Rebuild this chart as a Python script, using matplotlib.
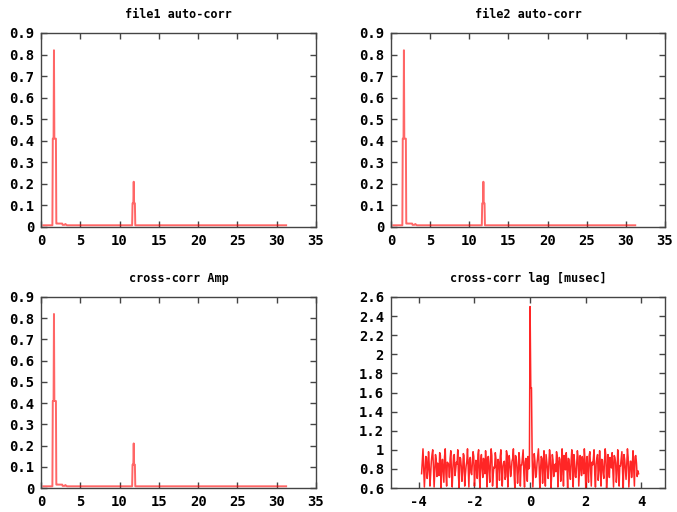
import matplotlib
matplotlib.use("Agg")
import matplotlib.pyplot as plt
import numpy as np
from matplotlib.ticker import FuncFormatter

# auto-correlation curve (same shape in file1, file2 and cross-corr Amp)
acf_x = [0.3, 1.45, 1.5, 1.6, 1.65, 1.7, 1.9, 1.95, 2.0, 2.7, 2.75, 3.0, 3.1, 3.3,
         11.6, 11.65, 11.75, 11.8, 11.85, 11.95, 12.0, 31.2]
acf_y = [0.008, 0.008, 0.41, 0.41, 0.82, 0.41, 0.41, 0.016, 0.016, 0.016, 0.010, 0.010,
         0.014, 0.008, 0.008, 0.11, 0.11, 0.21, 0.11, 0.11, 0.008, 0.008]

# cross-correlation vs lag: samples on the 0.05 musec grid from -3.9 to 3.9
ccf_vals = [
    0.75, 1.01, 0.61, 0.93, 0.70, 0.98, 0.62, 0.88, 1.00,
    0.61, 0.95, 0.72, 0.84, 0.97, 0.60, 0.90, 0.66, 1.01, 0.62,
    0.86, 0.71, 0.99, 0.61, 0.94, 0.73, 0.87, 1.00, 0.60, 0.91,
    0.67, 0.96, 0.62, 0.83, 1.01, 0.61, 0.92, 0.74, 0.98, 0.62,
    0.89, 0.70, 1.00, 0.60, 0.95, 0.71, 0.85, 0.99, 0.61, 0.93,
    0.66, 1.01, 0.62, 0.82, 0.97, 0.60, 0.90, 0.68, 1.00, 0.62,
    0.87, 0.69, 0.99, 0.61, 0.94, 0.72, 0.88, 1.01, 0.60, 0.92,
    0.65, 0.97, 0.62, 0.84, 1.00, 0.61, 0.91, 0.67, 0.80, 2.50,
    1.65, 0.61, 0.96, 0.71, 0.86, 1.01, 0.60, 0.93, 0.65, 0.99,
    0.62, 0.88, 0.70, 1.00, 0.60, 0.95, 0.72, 0.85, 0.98, 0.61,
    0.92, 0.67, 1.01, 0.62, 0.83, 0.97, 0.60, 0.90, 0.69, 1.00,
    0.61, 0.87, 0.71, 0.99, 0.62, 0.94, 0.73, 0.86, 1.01, 0.60,
    0.93, 0.66, 0.98, 0.62, 0.84, 1.00, 0.61, 0.91, 0.68, 0.99,
    0.62, 0.89, 0.70, 1.01, 0.60, 0.95, 0.71, 0.85, 0.97, 0.61,
    0.92, 0.66, 1.00, 0.62, 0.83, 0.98, 0.60, 0.90, 0.69, 1.01,
    0.61, 0.88, 0.71, 0.99, 0.62, 0.94, 0.72, 0.75,
]
# samples half-way between the ones above
ccf_mid = [
    0.88, 0.80, 0.76, 0.92, 0.79, 0.84, 0.74, 0.95, 0.82, 0.77, 0.90, 0.86,
    0.73, 0.94, 0.81, 0.78, 0.93, 0.75, 0.87, 0.84, 0.91, 0.76, 0.80, 0.95,
    0.79, 0.85, 0.72, 0.92, 0.83, 0.77, 0.94, 0.74, 0.88, 0.81, 0.90, 0.76,
    0.86, 0.93, 0.78, 0.82, 0.95, 0.73, 0.89, 0.80, 0.91, 0.75, 0.84, 0.92,
    0.77, 0.87, 0.94, 0.74, 0.81, 0.90, 0.79, 0.85, 0.93, 0.76, 0.83, 0.88,
    0.72, 0.95, 0.80, 0.86, 0.78, 0.91, 0.75, 0.94, 0.82, 0.77, 0.89, 0.84,
    0.92, 0.76, 0.87, 0.81, 0.93, 0.82, 1.65, 0.90, 0.79, 0.88, 0.74, 0.94,
    0.83, 0.78, 0.91, 0.86, 0.75, 0.95, 0.80, 0.84, 0.92, 0.73, 0.89, 0.81,
    0.77, 0.93, 0.85, 0.90, 0.74, 0.87, 0.94, 0.79, 0.82, 0.91, 0.76, 0.88,
    0.84, 0.95, 0.72, 0.86, 0.92, 0.78, 0.81, 0.93, 0.75, 0.89, 0.83, 0.77,
    0.94, 0.80, 0.87, 0.91, 0.74, 0.85, 0.95, 0.79, 0.82, 0.90, 0.76, 0.88,
    0.93, 0.73, 0.84, 0.92, 0.81, 0.78, 0.94, 0.86, 0.75, 0.89, 0.83, 0.91,
    0.77, 0.95, 0.80, 0.85, 0.92, 0.74, 0.88, 0.82, 0.79, 0.93, 0.86, 0.78,
]

titles = ["file1 auto-corr", "file2 auto-corr", "cross-corr Amp", "cross-corr lag [musec]"]

# merge the two sample sets into one series on a 0.025 musec grid
ccf_y = np.empty(len(ccf_vals) + len(ccf_mid))
ccf_y[0::2] = ccf_vals
ccf_y[1::2] = ccf_mid
ccf_lag = np.linspace(-3.9, 3.9, len(ccf_y))

FONT = "DejaVu Sans Mono"
FRAME = "#444444"
RED = "#ff0000"

fig = plt.figure(figsize=(6.77, 5.12), dpi=100)
W, H = 677.0, 512.0


def make_axes(l, r, t, b):
    return fig.add_axes([l / W, 1 - b / H, (r - l) / W, (b - t) / H])


def style(ax, title):
    for s in ax.spines.values():
        s.set_color(FRAME)
        s.set_linewidth(1.0)
    ax.tick_params(direction="in", length=4, width=1, color=FRAME,
                   top=True, right=True, labelsize=10, pad=5)
    for lab in ax.get_xticklabels() + ax.get_yticklabels():
        lab.set_fontfamily(FONT)
        lab.set_fontweight("bold")
    ax.set_title(title, fontfamily=FONT, fontweight="bold", fontsize=8.5, pad=11)


boxes = [(41, 316, 33, 227), (391, 665, 33, 227), (41, 316, 297, 488), (391, 665, 297, 488)]
for i, (box, title) in enumerate(zip(boxes, titles)):
    ax = make_axes(*box)
    if i < 3:
        ax.plot(acf_x, acf_y, color=RED, lw=1.4, alpha=0.6)
        ax.set_xlim(0, 35)
        ax.set_ylim(0, 0.9)
        ax.set_xticks(np.arange(0, 36, 5))
        ax.set_yticks(np.arange(0, 0.91, 0.1))
    else:
        ax.plot(ccf_lag, ccf_y, color=RED, lw=1.1, alpha=0.85)
        ax.set_xlim(-5, 4.85)
        ax.set_ylim(0.6, 2.6)
        ax.set_xticks([-4, -2, 0, 2, 4])
        ax.set_yticks(np.arange(0.6, 2.61, 0.2))
    ax.xaxis.set_major_formatter(FuncFormatter(lambda v, p: f"{v:g}"))
    ax.yaxis.set_major_formatter(FuncFormatter(lambda v, p: f"{round(v, 2):g}"))
    style(ax, title)

fig.savefig("out.png", dpi=100)
